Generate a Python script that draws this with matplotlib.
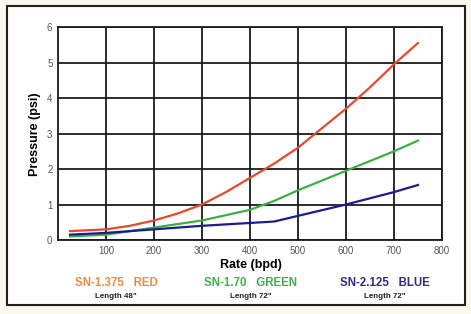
import matplotlib.pyplot as plt
from matplotlib.patches import Rectangle

plt.rcParams['font.family'] = ['Liberation Sans', 'DejaVu Sans']

# values
red_x = [25, 100, 150, 200, 250, 300, 350, 400, 450, 500, 550, 600, 650, 700, 750]
red_y = [0.25, 0.3, 0.4, 0.55, 0.75, 1.0, 1.35, 1.75, 2.15, 2.6, 3.15, 3.7, 4.3, 4.95, 5.55]
green_x = [25, 100, 200, 300, 400, 450, 500, 600, 700, 750]
green_y = [0.1, 0.15, 0.35, 0.55, 0.85, 1.1, 1.4, 1.95, 2.5, 2.8]
blue_x = [25, 100, 200, 300, 400, 450, 500, 600, 700, 750]
blue_y = [0.15, 0.2, 0.3, 0.4, 0.48, 0.52, 0.68, 1.0, 1.35, 1.55]

x_ticks = [100, 200, 300, 400, 500, 600, 700, 800]
y_ticks = [0, 1, 2, 3, 4, 5, 6]

labels = ['SN-1.375   RED', 'SN-1.70   GREEN', 'SN-2.125   BLUE']
lengths = ['Length 48"', 'Length 72"', 'Length 72"']
label_colors = ['#ee8a3a', '#3fb04a', '#2c2c8c']
line_colors = ['#e8482c', '#3cb043', '#1c1c90']

fig = plt.figure(figsize=(4.71, 3.14), dpi=100)
fig.patch.set_facecolor('#fbf8ee')
fig.patches.append(Rectangle((7 / 471, 1 - 305 / 314), 458 / 471, 299 / 314,
                             transform=fig.transFigure, facecolor='white',
                             edgecolor='#222222', linewidth=1.5, zorder=-1))

ax = fig.add_axes([58 / 471, 1 - 240 / 314, 384 / 471, 213 / 314])
ax.set_zorder(1)
ax.set_xlim(0, 800)
ax.set_ylim(0, 6)
ax.set_xticks(x_ticks)
ax.set_yticks(y_ticks)
ax.grid(True, color='#1a1a1a', linewidth=1.3)
ax.set_axisbelow(True)
for s in ax.spines.values():
    s.set_color('#1a1a1a')
    s.set_linewidth(1.3)
ax.tick_params(length=0, labelsize=7, colors='#555555', pad=4)

ax.plot(red_x, red_y, color=line_colors[0], lw=1.6)
ax.plot(green_x, green_y, color=line_colors[1], lw=1.6)
ax.plot(blue_x, blue_y, color=line_colors[2], lw=1.6)

fig.text(35 / 471, 1 - 134 / 314, 'Pressure (psi)', fontsize=9, fontweight='bold',
         rotation=90, ha='center', va='center')
fig.text(251 / 471, 1 - 265 / 314, 'Rate (bpd)', fontsize=9, fontweight='bold',
         ha='center', va='center')

for cx, lab, ln, c in zip([116, 251, 385], labels, lengths, label_colors):
    fig.text(cx / 471, 1 - 283 / 314, lab, fontsize=8.3, fontweight='bold',
             color=c, ha='center', va='center')
    fig.text(cx / 471, 1 - 297 / 314, ln, fontsize=5.8, fontweight='bold',
             color='#222222', ha='center', va='center')

fig.savefig('out.png', dpi=100)
